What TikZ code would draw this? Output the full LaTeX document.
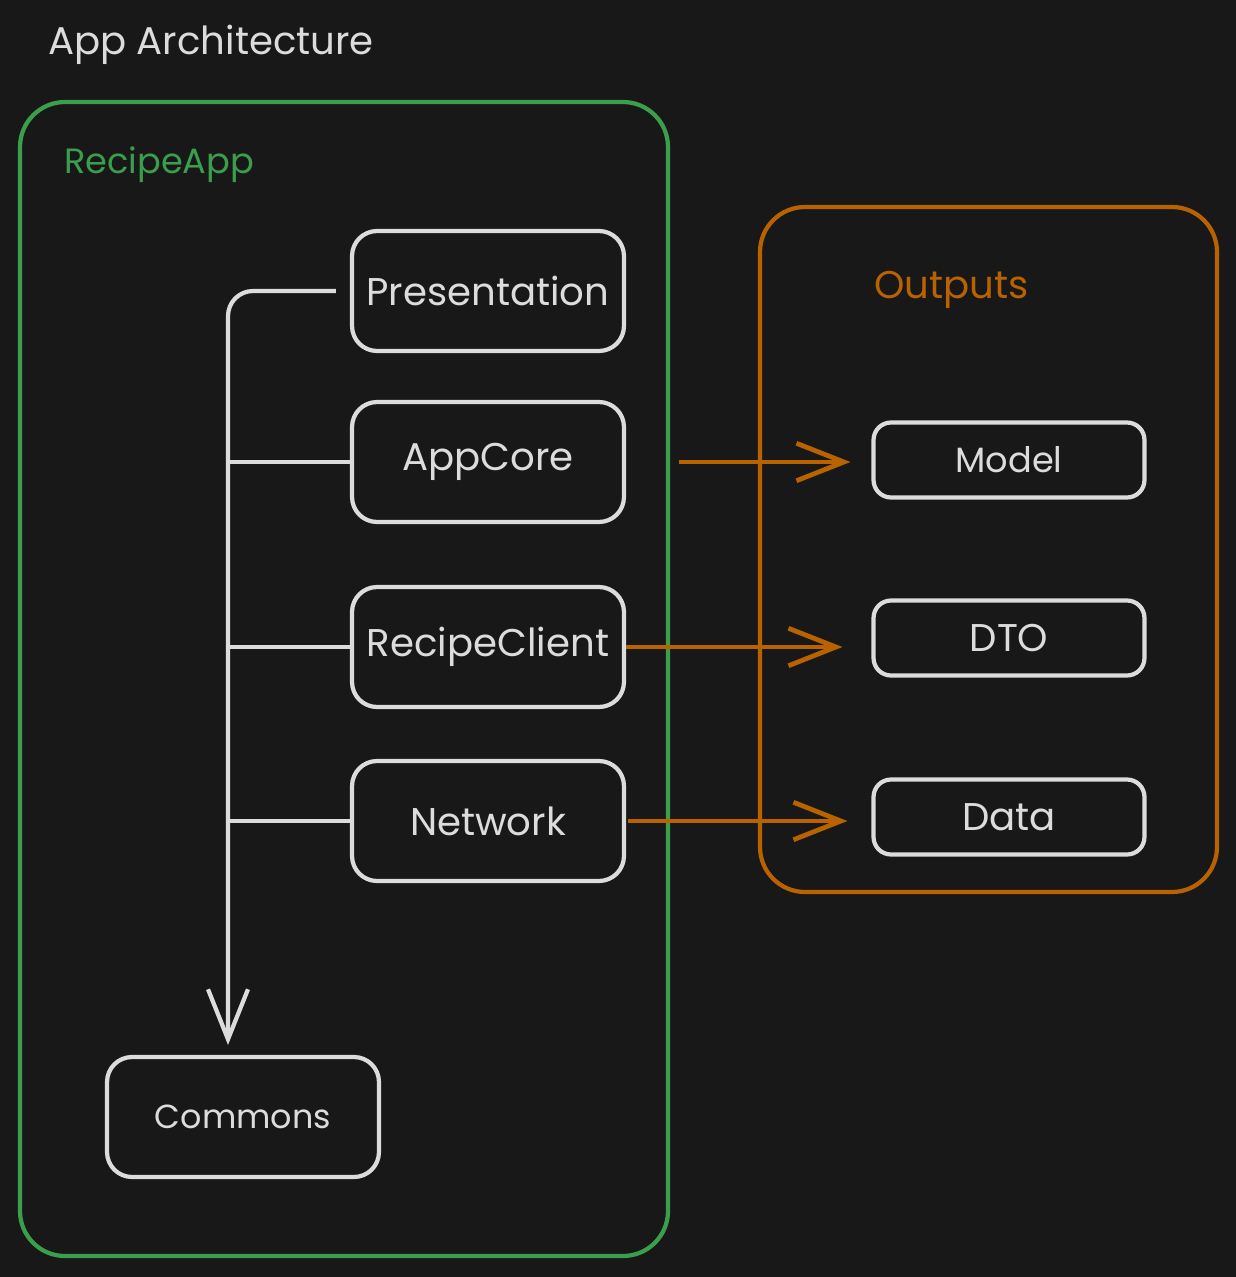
\documentclass[tikz,border=0pt]{standalone}
\usepackage{fontspec}
\setmainfont{Poppins}
\usepackage{xcolor}
\usepackage{tikz}
\usetikzlibrary{arrows.meta,positioning,calc}

\definecolor{canvas}{HTML}{181818}
\definecolor{inkgray}{HTML}{DCDCDC}
\definecolor{appgreen}{HTML}{3A9E4C}
\definecolor{outorange}{HTML}{B86200}

\begin{document}
\begin{tikzpicture}[
  x=0.02cm, y=-0.02cm,
  every node/.style={font=\fontsize{22}{26}\selectfont, text=inkgray},
  module/.style={draw=inkgray, line width=2.4pt, rounded corners=0.5cm,
    minimum width=5.44cm, minimum height=2.4cm, align=center},
  output/.style={draw=inkgray, line width=2.4pt, rounded corners=0.35cm,
    minimum width=5.42cm, minimum height=1.5cm, align=center},
  frame/.style={line width=2.4pt, rounded corners=0.9cm},
  depline/.style={draw=inkgray, line width=2.4pt},
  outline/.style={draw=outorange, line width=2.7pt,
    -{Straight Barb[length=0.95cm, width=0.75cm]}},
]
% canvas
\fill[canvas] (0,0) rectangle (1236,1277);
\useasboundingbox (0,0) rectangle (1236,1277);

% frames
\draw[frame, appgreen] (20,102) rectangle (668,1256);
\draw[frame, outorange] (760,207) rectangle (1217,892);

% titles
\node[anchor=west] (title) at (42,45) {App Architecture};
\node[anchor=west, text=appgreen, font=\fontsize{20}{24}\selectfont] (appname) at (58,165) {RecipeApp};
\node[anchor=west, text=outorange] (outname) at (868,290) {Outputs};

% modules
\node[module] (pres) at (488,291) {Presentation};
\node[module] (core) at (488,462) {AppCore};
\node[module] (rclient) at (488,647) {RecipeClient};
\node[module] (net) at (488,821) {Network};
\node[module, font=\fontsize{19}{23}\selectfont] (commons) at (243,1117) {Commons};

% outputs
\node[output, font=\fontsize{20}{24}\selectfont] (model) at (1009,460) {Model};
\node[output] (dto) at (1009,638) {DTO};
\node[output] (data) at (1009,817) {Data};

% dependency spine
\coordinate (spine) at (228,291);
\draw[depline, rounded corners=0.5cm,
  -{Straight Barb[length=1cm, width=0.8cm]}, shorten >=0.2cm]
  ($(pres.west)+(-14,0)$) -- (spine) -- (spine |- commons.north);
\draw[depline] (core.west) -- (core.west -| spine);
\draw[depline] (rclient.west) -- (rclient.west -| spine);
\draw[depline] (net.west) -- (net.west -| spine);

% outputs
\draw[outline, shorten <=1.06cm, shorten >=0.42cm] (core.east) -- (core.east -| model.west);
\draw[outline, shorten >=0.58cm] (rclient.east) -- (rclient.east -| dto.west);
\draw[outline, shorten <=0.04cm, shorten >=0.48cm] (net.east) -- (net.east -| data.west);
\end{tikzpicture}
\end{document}
